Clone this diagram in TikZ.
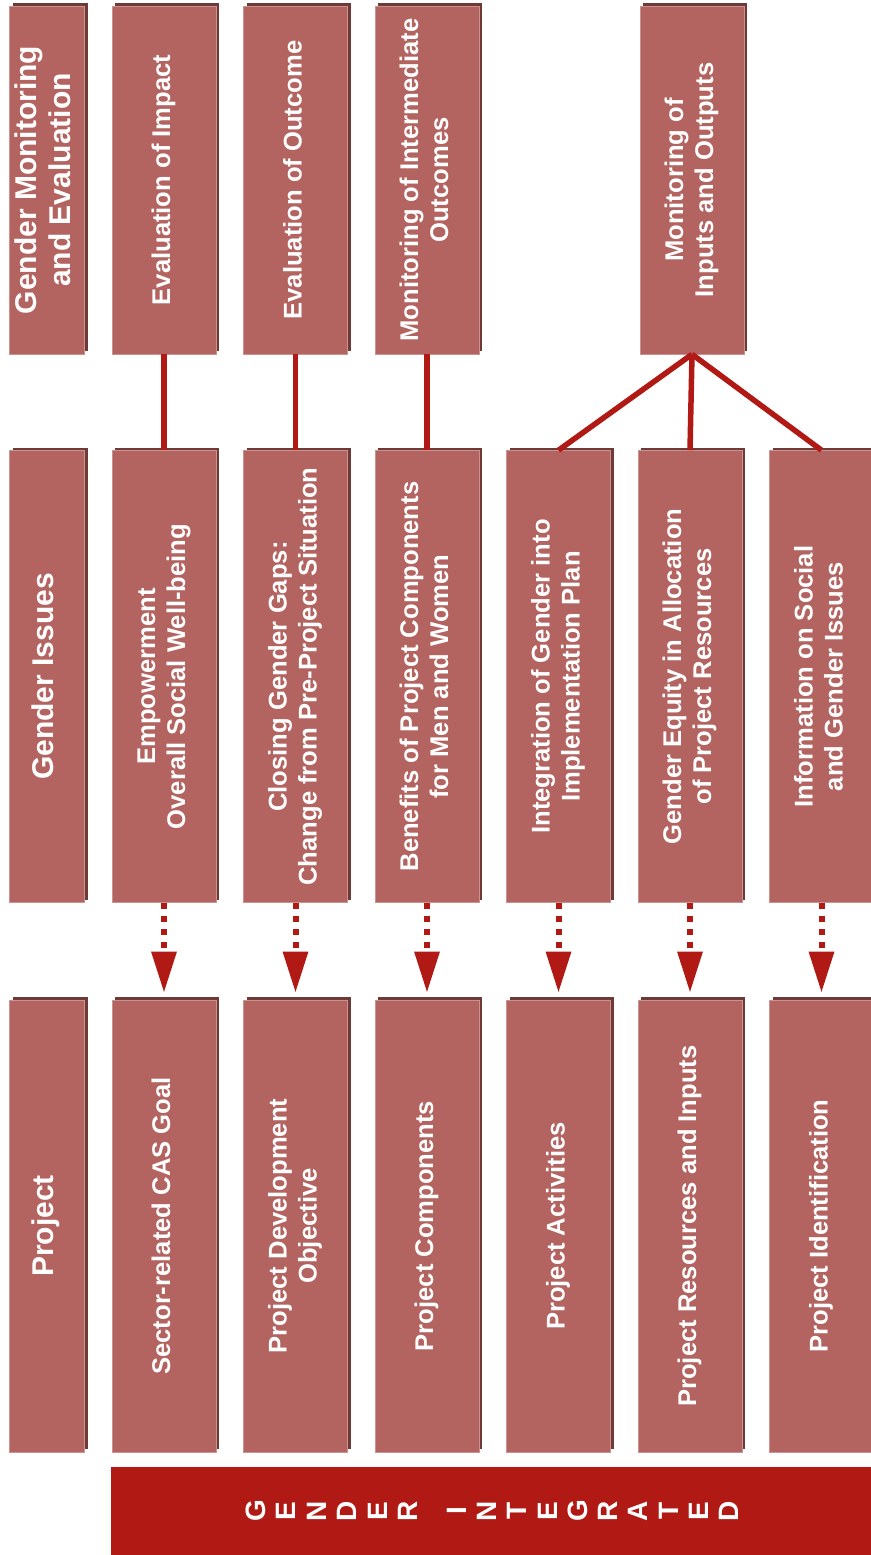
\documentclass[tikz,border=0pt]{standalone}
\usepackage{fontspec}
\setmainfont{Liberation Sans}
\usetikzlibrary{arrows.meta, shadows}
\definecolor{boxred}{HTML}{B46460}
\definecolor{boxshade}{HTML}{6E3A38}
\definecolor{linkred}{HTML}{B01914}
\newcommand{\vtext}[1]{\rotatebox{90}{\begin{tabular}{@{}c@{}}#1\end{tabular}}}

\begin{document}
\begin{tikzpicture}[x=1pt, y=-1pt,
  box/.style={rectangle, fill=boxred, draw=boxred!70!white, line width=0.6pt,
              minimum width=104pt, minimum height=452pt, inner sep=0pt,
              text=white, font=\fontsize{25.6}{30}\selectfont\bfseries,
              drop shadow={shadow xshift=3pt, shadow yshift=3pt,
                           fill=boxshade, opacity=1}},
  topbox/.style={box, minimum height=348pt},
  head/.style={box, minimum width=75pt, font=\fontsize{30}{34}\selectfont\bfseries},
  link/.style={linkred, line width=5.5pt},
  flow/.style={linkred, line width=6pt, dash pattern=on 6pt off 7pt,
               -{Triangle[length=41pt, width=24pt]}, shorten >=7pt},
  bar/.style={rectangle, fill=linkred, minimum width=769pt, minimum height=92pt},
  letter/.style={text=white, rotate=90, inner sep=0pt,
                 font=\fontsize{28}{28}\selectfont\bfseries},
]
  \useasboundingbox (0,0) rectangle (870,1555);

  % monitoring and evaluation
  \node[head, minimum height=348pt] (t0) at (47,180) {\vtext{Gender Monitoring\\and Evaluation}};
  \node[topbox] (t1) at (164,180)   {\vtext{Evaluation of Impact}};
  \node[topbox] (t2) at (295.5,180) {\vtext{Evaluation of Outcome}};
  \node[topbox] (t3) at (427,180)   {\vtext{Monitoring of Intermediate\\Outcomes}};
  \node[topbox] (t5) at (692,180)   {\vtext{Monitoring of\\Inputs and Outputs}};

  % gender issues
  \node[head] (m0) at (47,676.5)    {\vtext{Gender Issues}};
  \node[box]  (m1) at (164,676.5)   {\vtext{Empowerment\\Overall Social Well-being}};
  \node[box]  (m2) at (295.5,676.5) {\vtext{Closing Gender Gaps:\\Change from Pre-Project Situation}};
  \node[box]  (m3) at (427,676.5)   {\vtext{Benefits of Project Components\\for Men and Women}};
  \node[box]  (m4) at (558.5,676.5) {\vtext{Integration of Gender into\\Implementation Plan}};
  \node[box]  (m5) at (690,676.5)   {\vtext{Gender Equity in Allocation\\of Project Resources}};
  \node[box]  (m6) at (821.5,676.5) {\vtext{Information on Social\\and Gender Issues}};

  % project
  \node[head] (b0) at (47,1226)    {\vtext{Project}};
  \node[box]  (b1) at (164,1226)   {\vtext{Sector-related CAS Goal}};
  \node[box]  (b2) at (295.5,1226) {\vtext{Project Development\\Objective}};
  \node[box]  (b3) at (427,1226)   {\vtext{Project Components}};
  \node[box]  (b4) at (558.5,1226) {\vtext{Project Activities}};
  \node[box]  (b5) at (690,1226)   {\vtext{Project Resources and Inputs}};
  \node[box]  (b6) at (821.5,1226) {\vtext{Project Identification}};

  \draw[link] (t1.south) -- (m1.north);
  \draw[link] (t2.south) -- (m2.north);
  \draw[link] (t3.south) -- (m3.north);
  \draw[link] (t5.south) -- (m4.north);
  \draw[link] (t5.south) -- (m5.north);
  \draw[link] (t5.south) -- (m6.north);

  \foreach \i in {1,...,6}
    \draw[flow] (m\i.south) -- (b\i.north);

  % banner
  \node[bar] (bar) at (495.5,1513) {};
  \foreach \ch/\x [count=\n] in {G/256,E/286,N/317,D/347,E/378,R/408,I/457,N/487,
                                 T/517,E/548,G/578,R/608,A/638,T/669,E/699,D/729}
    \node[letter] (ch\n) at (\x,1511) {\ch};
\end{tikzpicture}
\end{document}
